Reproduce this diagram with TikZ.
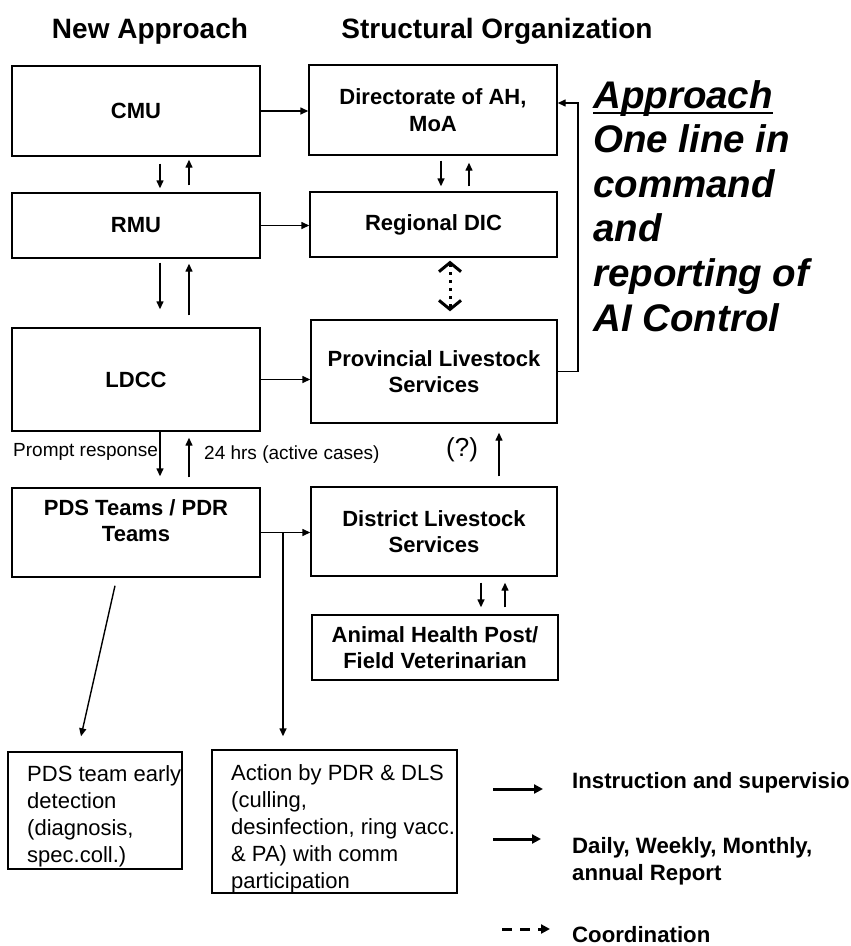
\documentclass[tikz,border=0pt]{standalone}
\usepackage{fontspec}
\setmainfont{Liberation Sans}
\usetikzlibrary{arrows.meta,calc}
\newcommand\boxfont{\fontsize{22}{26.5}\selectfont\bfseries}
\newcommand\plainfont{\fontsize{22}{27}\selectfont}
\newcommand\notefont{\fontsize{19}{22}\selectfont}
\newcommand\titlefont{\fontsize{28}{32}\selectfont\bfseries}
\newcommand\appfont{\fontsize{38.5}{44}\selectfont\bfseries\itshape}
\newcommand\legfont{\fontsize{22.2}{27}\selectfont\bfseries}
\tikzset{
  box/.style={draw, line width=1.4pt, inner sep=0pt, align=center, font=\boxfont},
  btext/.style={inner sep=0pt, align=center, font=\boxfont},
  ltext/.style={inner sep=0pt, align=left, font=\plainfont},
  tx/.style={inner sep=0pt},
  arr/.style={line width=1.4pt, -{Triangle[length=8pt,width=7pt]}},
  legarr/.style={line width=3pt, -{Triangle[length=9pt,width=9pt]}},
  dotarr/.style={line width=3pt, dash pattern=on 3pt off 5pt,
     {Straight Barb[length=9pt,width=22pt,line width=3pt]}-{Straight Barb[length=9pt,width=22pt,line width=3pt]}},
}
\begin{document}
\begin{tikzpicture}[x=1pt,y=-1pt]
\useasboundingbox (0,0) rectangle (851,946);
% titles
\node[tx, font=\titlefont] (t1) at (150,31) {New Approach};
\node[tx, font=\titlefont] (t2) at (497,31) {Structural Organization};
% left column
\node[box, minimum width=248pt, minimum height=90pt] (cmu) at (136,111) {CMU};
\node[box, minimum width=248pt, minimum height=65pt] (rmu) at (136,225.5) {RMU};
\node[box, minimum width=248pt, minimum height=103pt] (ldcc) at (136,379.5) {LDCC};
\node[box, minimum width=248pt, minimum height=89pt] (pds) at (136,532.5) {};
\node[btext] (pdst) at (136,520.5) {PDS Teams / PDR\\Teams};
% right column
\node[box, minimum width=248pt, minimum height=90pt] (dir) at (433,110) {Directorate of AH,\\MoA};
\node[box, minimum width=247pt, minimum height=65pt] (rdic) at (433.5,224.5) {Regional DIC};
\node[box, minimum width=246pt, minimum height=103pt] (prov) at (434,371.5) {Provincial Livestock\\Services};
\node[box, minimum width=246pt, minimum height=89pt] (dist) at (434,531.5) {District Livestock\\Services};
\node[box, minimum width=246pt, minimum height=65pt] (ahp) at (435,647.5) {Animal Health Post/\\Field Veterinarian};
% bottom boxes
\node[box, minimum width=174pt, minimum height=117pt] (early) at (95,810.5) {};
\node[ltext, anchor=north west] (earlyt) at (27,765) {PDS team early\\detection\\(diagnosis,\\spec.coll.)};
\node[box, minimum width=245pt, minimum height=143pt] (action) at (334.5,821.5) {};
\node[ltext, anchor=north west] (actiont) at (231,764) {Action by PDR \& DLS\\(culling,\\desinfection, ring vacc.\\\& PA) with comm\\participation};
% x reference coordinates
\coordinate (xa) at (160,0);
\coordinate (xb) at (189,0);
\coordinate (xc) at (441,0);
\coordinate (xd) at (469,0);
\coordinate (xe) at (499,0);
\coordinate (xf) at (481,0);
\coordinate (xg) at (505,0);
\coordinate (xh) at (283,0);
\coordinate (xr) at (578,0);
\coordinate (xq) at (0,103);
% horizontal arrows
\draw[arr] (cmu.east) -- (cmu.east -| dir.west);
\draw[arr] (rmu.east) -- (rmu.east -| rdic.west);
\draw[arr] (ldcc.east) -- (ldcc.east -| prov.west);
\draw[arr] (pds.east) -- (pds.east -| dist.west);
% vertical pairs
\draw[arr, shorten <=7pt, shorten >=4pt] (cmu.south -| xa) -- (rmu.north -| xa);
\draw[arr, shorten <=7pt, shorten >=3pt] (rmu.north -| xb) -- (cmu.south -| xb);
\draw[arr, shorten <=5pt, shorten >=5pt] (dir.south -| xc) -- (rdic.north -| xc);
\draw[arr, shorten <=5pt, shorten >=7pt] (rdic.north -| xd) -- (dir.south -| xd);
\draw[arr, shorten <=4pt, shorten >=18pt] (rmu.south -| xa) -- (ldcc.north -| xa);
\draw[arr, shorten <=12pt, shorten >=5pt] (ldcc.north -| xb) -- (rmu.south -| xb);
\draw[arr, shorten >=11pt] (ldcc.south -| xa) -- (pds.north -| xa);
\draw[arr, shorten <=10pt, shorten >=6pt] (pds.north -| xb) -- (ldcc.south -| xb);
\draw[arr, shorten <=10pt, shorten >=9pt] (dist.north -| xe) -- (prov.south -| xe);
\draw[arr, shorten <=6pt, shorten >=7pt] (dist.south -| xf) -- (ahp.north -| xf);
\draw[arr, shorten <=7pt, shorten >=6pt] (ahp.north -| xg) -- (dist.south -| xg);
% coordination between Regional DIC and Provincial
\draw[dotarr] ($(rdic.south)+(16.5,3)$) -- ($(prov.north)+(16,-8)$);
% one line to the Directorate
\draw[arr] (prov.east) -- (prov.east -| xr) -- (xr |- xq) -- (xq -| dir.east);
% to bottom boxes
\draw[arr] ($(pds.south)+(-21,8)$) -- ($(early.north)+(-14,-15)$);
\draw[arr, shorten >=13pt] (pds.east -| xh) -- (action.north -| xh);
% labels
\node[tx, font=\notefont, anchor=west] (lp) at (13,452) {Prompt response};
\node[tx, font=\notefont, anchor=west] (l24) at (204,455) {24 hrs (active cases)};
\node[tx, font=\fontsize{26}{30}\selectfont, anchor=west] (lq) at (446,450) {(?)};
% approach text
\node[tx, font=\appfont, anchor=base west] (ap1) at (593,108) {Approach};
\node[tx, font=\appfont, anchor=base west] (ap2) at (593,152.6) {One line in};
\node[tx, font=\appfont, anchor=base west] (ap3) at (593,197.2) {command};
\node[tx, font=\appfont, anchor=base west] (ap4) at (593,241.8) {and};
\node[tx, font=\appfont, anchor=base west] (ap5) at (593,286.4) {reporting of};
\node[tx, font=\appfont, anchor=base west] (ap6) at (593,331) {AI Control};
\draw[line width=2.5pt] ($(ap1.base west)+(0,5)$) -- ($(ap1.base east)+(0,5)$);
% legend
\coordinate (l1a) at (493,789); \coordinate (l1b) at (543,789);
\coordinate (l2a) at (493,839); \coordinate (l2b) at (541,839);
\coordinate (l3a) at (502,929); \coordinate (l3b) at (550,929);
\draw[legarr] (l1a) -- (l1b);
\draw[legarr] (l2a) -- (l2b);
\draw[line width=3pt, dash pattern=on 10pt off 8pt, -{Triangle[length=9pt,width=9pt]}] (l3a) -- (l3b);
\node[tx, font=\legfont, anchor=west] (g1) at (572,783) {Instruction and supervisio};
\node[tx, font=\legfont, anchor=west, align=left] (g2) at (572,861.5) {Daily, Weekly, Monthly,\\annual Report};
\node[tx, font=\legfont, anchor=base west] (g3) at (572,942) {Coordination};
\end{tikzpicture}
\end{document}
